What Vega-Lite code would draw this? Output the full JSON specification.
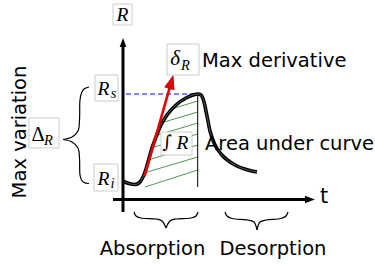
{
  "$schema": "https://vega.github.io/schema/vega-lite/v6.json",
  "width": 375,
  "height": 265,
  "autosize": {"type": "fit", "contains": "padding"},
  "padding": 0,
  "background": "white",
  "config": {"view": {"stroke": null}},
  "datasets": {
    "curve": [
      {"x": 123, "y": 181}, {"x": 129, "y": 183.5}, {"x": 135, "y": 184.5}, {"x": 139, "y": 183},
      {"x": 142, "y": 179}, {"x": 145, "y": 172}, {"x": 148, "y": 162}, {"x": 152, "y": 148},
      {"x": 156, "y": 137}, {"x": 161, "y": 125}, {"x": 167, "y": 115}, {"x": 176, "y": 105},
      {"x": 186, "y": 98}, {"x": 193, "y": 95}, {"x": 198, "y": 94}, {"x": 201, "y": 95},
      {"x": 204, "y": 102}, {"x": 207, "y": 116}, {"x": 210, "y": 131}, {"x": 215, "y": 145},
      {"x": 222, "y": 155}, {"x": 235, "y": 165}, {"x": 248, "y": 170}, {"x": 257, "y": 172}
    ],
    "hatch": [
      {"x": 145, "y": 187, "x2": 197.7, "y2": 170},
      {"x": 145.5, "y": 172.5, "x2": 197.7, "y2": 157},
      {"x": 148.6, "y": 159.8, "x2": 197.7, "y2": 145},
      {"x": 152, "y": 147.7, "x2": 197.7, "y2": 134},
      {"x": 156.7, "y": 135.3, "x2": 197.7, "y2": 123},
      {"x": 162.5, "y": 122.5, "x2": 197.7, "y2": 112},
      {"x": 173, "y": 108.5, "x2": 197.7, "y2": 101}
    ],
    "axes": [
      {"x": 123, "y": 212, "x2": 123, "y2": 45},
      {"x": 113, "y": 199.5, "x2": 311, "y2": 199.5}
    ],
    "vline": [{"x": 197.7, "y": 94, "x2": 197.7, "y2": 187}],
    "dashed": [{"x": 126, "y": 94, "x2": 197, "y2": 94}],
    "shaft": [{"x": 144.5, "y": 176, "x2": 170, "y2": 86.6}],
    "headUp": [{"x": 123, "y": 42.7}],
    "headRight": [{"x": 309.7, "y": 199.5}],
    "headRed": [{"x": 171.1, "y": 82.5}],
    "braces": [
      {"part": "L1", "i": 0, "x": 89, "y": 87}, {"part": "L1", "i": 1, "x": 84, "y": 89},
      {"part": "L1", "i": 2, "x": 81.5, "y": 93}, {"part": "L1", "i": 3, "x": 80, "y": 100},
      {"part": "L1", "i": 4, "x": 79.5, "y": 120}, {"part": "L1", "i": 5, "x": 78, "y": 131},
      {"part": "L1", "i": 6, "x": 72, "y": 137}, {"part": "L1", "i": 7, "x": 63, "y": 139.5},
      {"part": "L2", "i": 0, "x": 63, "y": 139.5}, {"part": "L2", "i": 1, "x": 72, "y": 142},
      {"part": "L2", "i": 2, "x": 78, "y": 148}, {"part": "L2", "i": 3, "x": 79.5, "y": 158},
      {"part": "L2", "i": 4, "x": 80, "y": 175}, {"part": "L2", "i": 5, "x": 81.5, "y": 180},
      {"part": "L2", "i": 6, "x": 84, "y": 182.5}, {"part": "L2", "i": 7, "x": 89, "y": 183.5},
      {"part": "A1", "i": 0, "x": 134, "y": 212}, {"part": "A1", "i": 1, "x": 136, "y": 216},
      {"part": "A1", "i": 2, "x": 141, "y": 218}, {"part": "A1", "i": 3, "x": 156, "y": 219},
      {"part": "A1", "i": 4, "x": 162, "y": 221}, {"part": "A1", "i": 5, "x": 166, "y": 228},
      {"part": "A2", "i": 0, "x": 166, "y": 228}, {"part": "A2", "i": 1, "x": 170, "y": 221},
      {"part": "A2", "i": 2, "x": 176, "y": 219}, {"part": "A2", "i": 3, "x": 191, "y": 218},
      {"part": "A2", "i": 4, "x": 196, "y": 216}, {"part": "A2", "i": 5, "x": 198, "y": 212},
      {"part": "D1", "i": 0, "x": 225, "y": 212}, {"part": "D1", "i": 1, "x": 227, "y": 216},
      {"part": "D1", "i": 2, "x": 232, "y": 218.5}, {"part": "D1", "i": 3, "x": 248, "y": 220},
      {"part": "D1", "i": 4, "x": 254, "y": 222}, {"part": "D1", "i": 5, "x": 257, "y": 230},
      {"part": "D2", "i": 0, "x": 257, "y": 230}, {"part": "D2", "i": 1, "x": 260, "y": 222},
      {"part": "D2", "i": 2, "x": 266, "y": 220}, {"part": "D2", "i": 3, "x": 281, "y": 218.5},
      {"part": "D2", "i": 4, "x": 286, "y": 216}, {"part": "D2", "i": 5, "x": 288, "y": 212}
    ],
    "boxes": [
      {"x": 113, "y": 4, "x2": 132, "y2": 25},
      {"x": 167, "y": 44, "x2": 199, "y2": 75},
      {"x": 95, "y": 75, "x2": 118, "y2": 101},
      {"x": 94, "y": 164, "x2": 118, "y2": 191},
      {"x": 29, "y": 118, "x2": 59, "y2": 148},
      {"x": 161, "y": 132, "x2": 192, "y2": 155}
    ],
    "mathBig": [
      {"x": 122.5, "y": 20.5, "t": "R"},
      {"x": 103.5, "y": 94.5, "t": "R"},
      {"x": 103.5, "y": 185, "t": "R"},
      {"x": 182.5, "y": 149, "t": "R"}
    ],
    "delta": [
      {"x": 175, "y": 64.5, "t": "δ"}
    ],
    "mathSub": [
      {"x": 113.5, "y": 97.5, "t": "s"},
      {"x": 112.5, "y": 188, "t": "i"},
      {"x": 185.5, "y": 69.5, "t": "R"},
      {"x": 48.5, "y": 145, "t": "R"}
    ],
    "mathUpright": [
      {"x": 38, "y": 140.5, "t": "Δ"}
    ],
    "integral": [
      {"x": 167, "y": 143, "t": "∫"}
    ],
    "labelsLeft": [
      {"x": 202, "y": 67, "t": "Max derivative"},
      {"x": 205, "y": 150, "t": "Area under curve"}
    ],
    "labelsCenter": [
      {"x": 152.5, "y": 255, "t": "Absorption"},
      {"x": 273, "y": 255, "t": "Desorption"}
    ],
    "tlabel": [{"x": 324, "y": 203, "t": "t"}],
    "vlabel": [{"x": 26, "y": 132, "t": "Max variation"}]
  },
  "encoding": {
    "x": {"field": "x", "type": "quantitative", "scale": {"domain": [0, 375], "nice": false, "zero": false}, "axis": null},
    "y": {"field": "y", "type": "quantitative", "scale": {"domain": [0, 265], "nice": false, "zero": false, "reverse": true}, "axis": null}
  },
  "layer": [
    {
      "data": {"name": "hatch"},
      "mark": {"type": "rule", "color": "#3f8a3f", "strokeWidth": 0.9},
      "encoding": {"x2": {"field": "x2"}, "y2": {"field": "y2"}}
    },
    {
      "data": {"name": "vline"},
      "mark": {"type": "rule", "color": "black", "strokeWidth": 1},
      "encoding": {"x2": {"field": "x2"}, "y2": {"field": "y2"}}
    },
    {
      "data": {"name": "dashed"},
      "mark": {"type": "rule", "color": "#0000ee", "strokeWidth": 1, "strokeDash": [5, 3]},
      "encoding": {"x2": {"field": "x2"}, "y2": {"field": "y2"}}
    },
    {
      "data": {"name": "curve"},
      "mark": {"type": "line", "color": "black", "strokeWidth": 3.6, "interpolate": "monotone"},
      "encoding": {}
    },
    {
      "data": {"name": "curve"},
      "mark": {"type": "line", "color": "#555555", "strokeWidth": 1, "interpolate": "monotone"},
      "encoding": {}
    },
    {
      "data": {"name": "shaft"},
      "mark": {"type": "rule", "color": "#e60000", "strokeWidth": 2.6},
      "encoding": {"x2": {"field": "x2"}, "y2": {"field": "y2"}}
    },
    {
      "data": {"name": "headRed"},
      "mark": {"type": "point", "shape": "M0,-1L0.7,0.9L-0.7,0.9Z", "size": 185, "filled": true, "fill": "#e60000", "stroke": "#a00000", "strokeWidth": 0.8, "opacity": 1, "angle": 16},
      "encoding": {}
    },
    {
      "data": {"name": "axes"},
      "mark": {"type": "rule", "color": "black", "strokeWidth": 3},
      "encoding": {"x2": {"field": "x2"}, "y2": {"field": "y2"}}
    },
    {
      "data": {"name": "headUp"},
      "mark": {"type": "point", "shape": "M0,-1L0.7,0.9L-0.7,0.9Z", "size": 88, "filled": true, "color": "black", "opacity": 1, "angle": 0},
      "encoding": {}
    },
    {
      "data": {"name": "headRight"},
      "mark": {"type": "point", "shape": "M0,-1L0.7,0.9L-0.7,0.9Z", "size": 112, "filled": true, "color": "black", "opacity": 1, "angle": 90},
      "encoding": {}
    },
    {
      "data": {"name": "braces"},
      "mark": {"type": "line", "color": "black", "strokeWidth": 1.2, "interpolate": "catmull-rom"},
      "encoding": {"detail": {"field": "part"}, "order": {"field": "i", "type": "quantitative"}}
    },
    {
      "data": {"name": "boxes"},
      "mark": {"type": "rect", "fill": "white", "stroke": "#cccccc", "strokeWidth": 1},
      "encoding": {"x2": {"field": "x2"}, "y2": {"field": "y2"}}
    },
    {
      "data": {"name": "mathBig"},
      "mark": {"type": "text", "font": "Liberation Serif", "fontStyle": "italic", "fontSize": 19.5, "align": "center", "baseline": "alphabetic", "color": "black"},
      "encoding": {"text": {"field": "t"}}
    },
    {
      "data": {"name": "delta"},
      "mark": {"type": "text", "font": "Liberation Serif", "fontStyle": "italic", "fontSize": 21, "align": "center", "baseline": "alphabetic", "color": "black"},
      "encoding": {"text": {"field": "t"}}
    },
    {
      "data": {"name": "mathSub"},
      "mark": {"type": "text", "font": "Liberation Serif", "fontStyle": "italic", "fontSize": 14.5, "align": "center", "baseline": "alphabetic", "color": "black"},
      "encoding": {"text": {"field": "t"}}
    },
    {
      "data": {"name": "mathUpright"},
      "mark": {"type": "text", "font": "Liberation Serif", "fontSize": 20.5, "align": "center", "baseline": "alphabetic", "color": "black"},
      "encoding": {"text": {"field": "t"}}
    },
    {
      "data": {"name": "integral"},
      "mark": {"type": "text", "font": "DejaVu Serif", "fontStyle": "italic", "fontSize": 18, "align": "center", "baseline": "middle", "color": "black"},
      "encoding": {"text": {"field": "t"}}
    },
    {
      "data": {"name": "labelsLeft"},
      "mark": {"type": "text", "font": "DejaVu Sans", "fontSize": 19.5, "align": "left", "baseline": "alphabetic", "color": "black"},
      "encoding": {"text": {"field": "t"}}
    },
    {
      "data": {"name": "labelsCenter"},
      "mark": {"type": "text", "font": "DejaVu Sans", "fontSize": 19.5, "align": "center", "baseline": "alphabetic", "color": "black"},
      "encoding": {"text": {"field": "t"}}
    },
    {
      "data": {"name": "tlabel"},
      "mark": {"type": "text", "font": "DejaVu Sans", "fontSize": 21, "align": "center", "baseline": "alphabetic", "color": "black"},
      "encoding": {"text": {"field": "t"}}
    },
    {
      "data": {"name": "vlabel"},
      "mark": {"type": "text", "font": "DejaVu Sans", "fontSize": 19.5, "align": "center", "baseline": "alphabetic", "angle": 270, "color": "black"},
      "encoding": {"text": {"field": "t"}}
    }
  ]
}
